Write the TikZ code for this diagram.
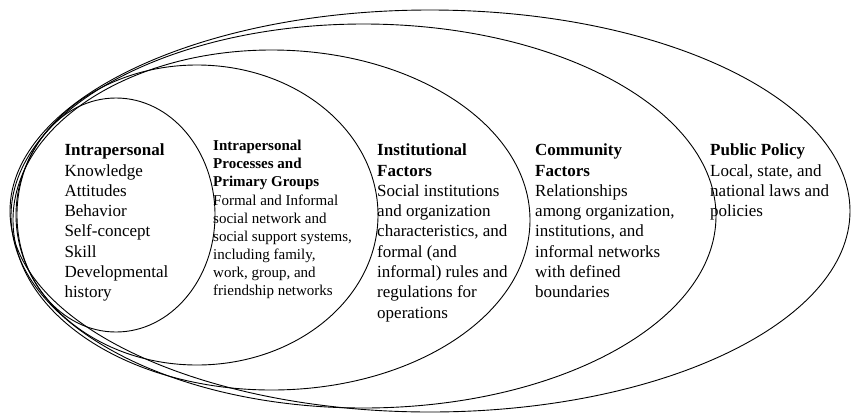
\documentclass[tikz,border=0pt]{standalone}
\usepackage{fontspec}
\setmainfont{Liberation Serif}
\newcommand{\levelblock}[1]{\begin{tabular}[t]{@{}l@{}}#1\end{tabular}}
\begin{document}
\begin{tikzpicture}[x=1pt,y=-1pt,
  ring/.style={draw=black,line width=0.9pt},
  bigcol/.style={anchor=base west,inner sep=0pt,font=\fontsize{17}{20.3}\selectfont},
  smallcol/.style={anchor=base west,inner sep=0pt,font=\fontsize{15}{18.1}\selectfont}]
\useasboundingbox (0,0) rectangle (851,413);

% nested levels of the ecological model
\draw[ring] (430,211)   ellipse [x radius=420pt,   y radius=201pt];
\draw[ring] (363.5,216) ellipse [x radius=352.5pt, y radius=192pt];
\draw[ring] (271.5,220) ellipse [x radius=258.5pt, y radius=170pt];
\draw[ring] (197,215)   ellipse [x radius=181pt,   y radius=150pt];
\draw[ring] (116,215)   ellipse [x radius=99pt,    y radius=117pt];

% level descriptions
\node[bigcol] (intra) at (64.3,155.7) {\levelblock{\textbf{Intrapersonal}\\
  Knowledge\\ Attitudes\\ Behavior\\ Self-concept\\ Skill\\ Developmental\\ history}};
\node[smallcol] (groups) at (213,150.7) {\levelblock{\textbf{Intrapersonal}\\
  \textbf{Processes and}\\ \textbf{Primary Groups}\\ Formal and Informal\\
  social network and\\ social support systems,\\ including family,\\
  work, group, and\\ friendship networks}};
\node[bigcol] (inst) at (377,155.7) {\levelblock{\textbf{Institutional}\\
  \textbf{Factors}\\ Social institutions\\ and organization\\
  characteristics, and\\ formal (and\\ informal) rules and\\
  regulations for\\ operations}};
\node[bigcol] (comm) at (535,155.7) {\levelblock{\textbf{Community}\\
  \textbf{Factors}\\ Relationships\\ among organization,\\
  institutions, and\\ informal networks\\ with defined\\ boundaries}};
\node[bigcol] (policy) at (710,155.7) {\levelblock{\textbf{Public Policy}\\
  Local, state, and\\ national laws and\\ policies}};
\end{tikzpicture}
\end{document}
